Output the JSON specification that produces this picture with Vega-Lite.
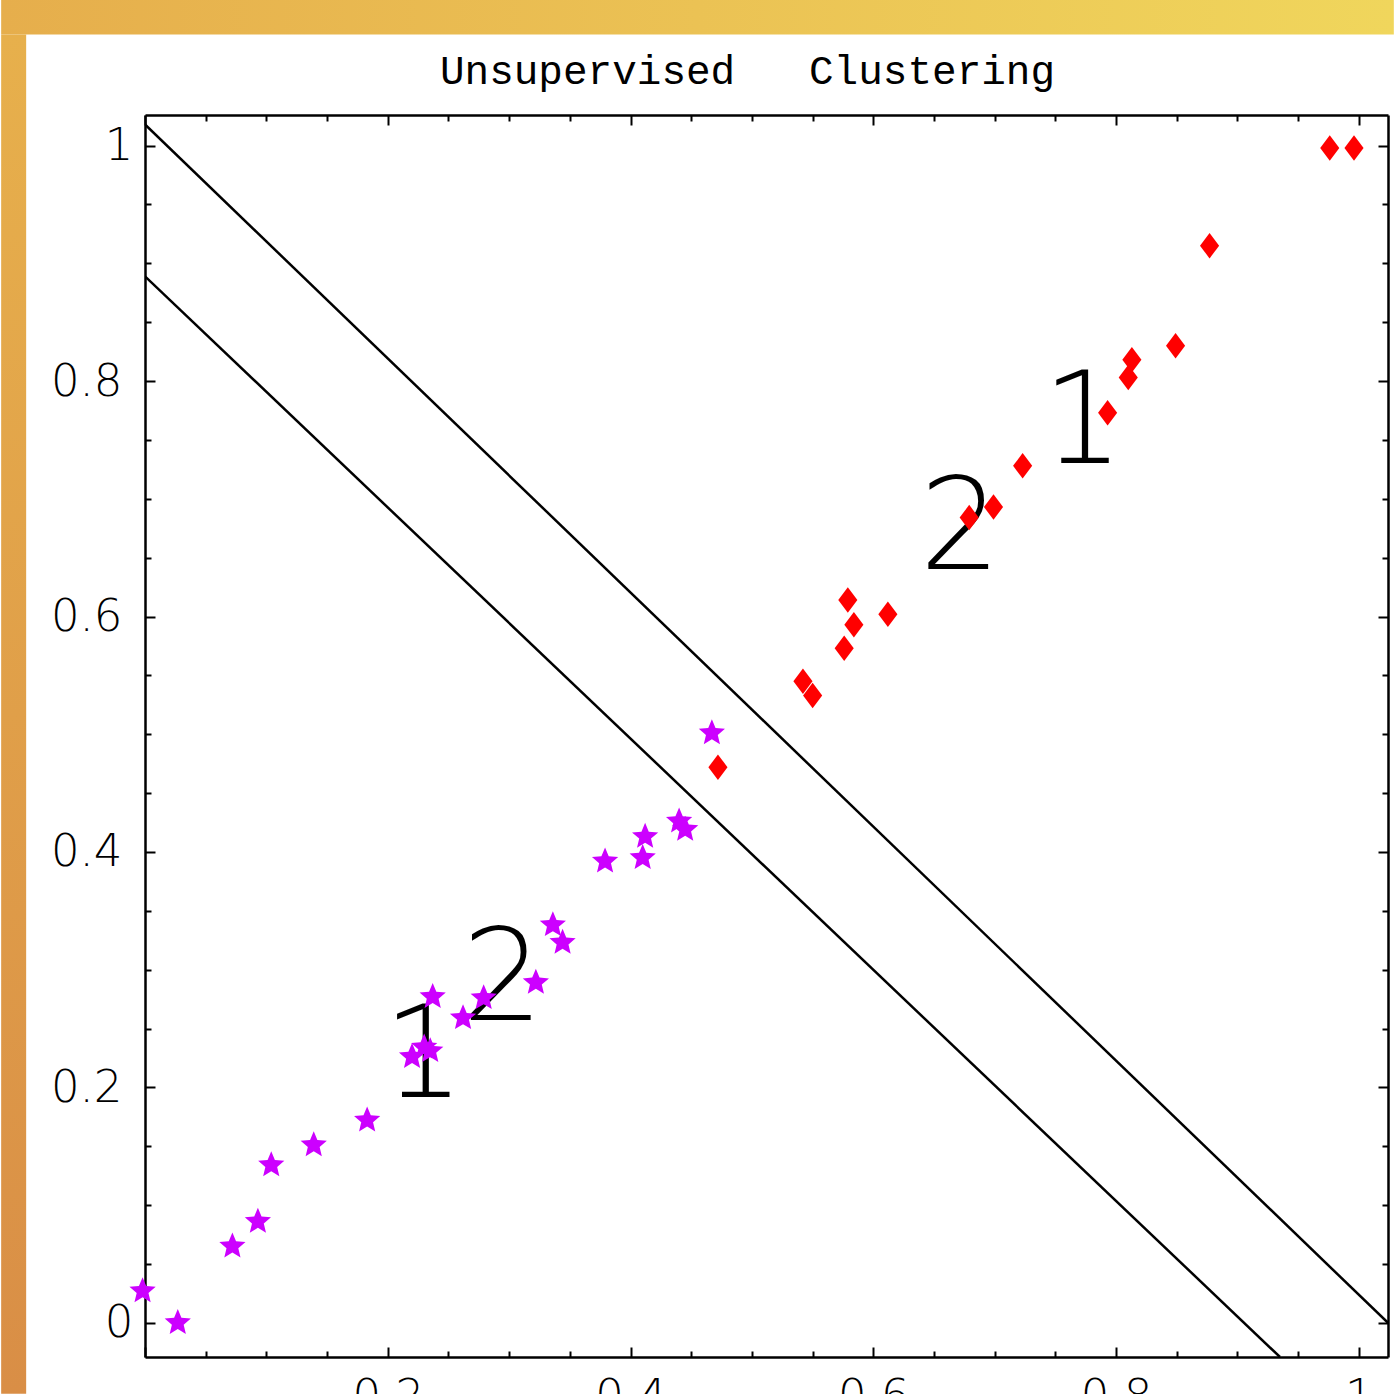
{
  "$schema": "https://vega.github.io/schema/vega-lite/v6.json",
  "width": 1243,
  "height": 1242,
  "autosize": {"type": "none"},
  "padding": {"left": 145, "top": 115, "right": 6, "bottom": 37},
  "background": "white",
  "config": {"view": {"stroke": null}, "axis": {"grid": false, "title": null, "domainColor": "black", "domainWidth": 2.5, "tickColor": "black", "tickWidth": 2, "labelColor": "black", "labelFlush": false, "labelOverlap": false}},
  "title": {"text": "Unsupervised\u00a0\u00a0\u00a0Clustering", "font": "Liberation Mono", "fontSize": 41, "fontWeight": "normal", "color": "black", "anchor": "middle", "frame": "group", "offset": -93, "dx": -19},
  "datasets": {
    "stars": [
      {"x": -0.002, "y": 0.027}, {"x": 0.027, "y": 0.0}, {"x": 0.072, "y": 0.065}, {"x": 0.093, "y": 0.086},
      {"x": 0.104, "y": 0.134}, {"x": 0.139, "y": 0.151}, {"x": 0.183, "y": 0.172}, {"x": 0.220, "y": 0.226},
      {"x": 0.230, "y": 0.234}, {"x": 0.235, "y": 0.231}, {"x": 0.237, "y": 0.277}, {"x": 0.262, "y": 0.259},
      {"x": 0.279, "y": 0.276}, {"x": 0.322, "y": 0.289}, {"x": 0.336, "y": 0.338}, {"x": 0.344, "y": 0.323},
      {"x": 0.379, "y": 0.392}, {"x": 0.410, "y": 0.395}, {"x": 0.412, "y": 0.413}, {"x": 0.440, "y": 0.426},
      {"x": 0.445, "y": 0.419}, {"x": 0.467, "y": 0.501}
    ],
    "diamonds": [
      {"x": 0.472, "y": 0.472}, {"x": 0.542, "y": 0.545}, {"x": 0.550, "y": 0.533}, {"x": 0.576, "y": 0.573},
      {"x": 0.579, "y": 0.614}, {"x": 0.584, "y": 0.593}, {"x": 0.612, "y": 0.602}, {"x": 0.679, "y": 0.684},
      {"x": 0.699, "y": 0.693}, {"x": 0.723, "y": 0.728}, {"x": 0.793, "y": 0.773}, {"x": 0.810, "y": 0.803},
      {"x": 0.813, "y": 0.818}, {"x": 0.849, "y": 0.830}, {"x": 0.877, "y": 0.915}, {"x": 0.976, "y": 0.998},
      {"x": 0.996, "y": 0.998}
    ],
    "lines": [
      {"line": "upper", "x": 0.0, "y": 1.018}, {"line": "upper", "x": 1.024, "y": 0.0},
      {"line": "lower", "x": 0.0, "y": 0.889}, {"line": "lower", "x": 0.935, "y": -0.029}
    ],
    "labels": [
      {"x": 0.2296, "y": 0.192, "label": "1"}, {"x": 0.2947, "y": 0.2574, "label": "2"},
      {"x": 0.6716, "y": 0.6406, "label": "2"}, {"x": 0.7728, "y": 0.7307, "label": "1"}
    ]
  },
  "layer": [
    {
      "data": {"values": [{}]},
      "mark": {"type": "rect", "fill": {"gradient": "linear", "x1": 0, "y1": 0, "x2": 1, "y2": 0, "stops": [{"offset": 0, "color": "#e6ae4c"}, {"offset": 1, "color": "#f0d65c"}]}},
      "encoding": {
        "x": {"datum": -0.1185, "type": "quantitative", "scale": {"domain": [0, 1.024], "nice": false, "zero": false}, "axis": null},
        "x2": {"datum": 1.0288},
        "y": {"datum": 1.124, "type": "quantitative", "scale": {"domain": [-0.029, 1.026], "nice": false, "zero": false}, "axis": null},
        "y2": {"datum": 1.0943}
      }
    },
    {
      "data": {"values": [{}]},
      "mark": {"type": "rect", "fill": {"gradient": "linear", "x1": 0, "y1": 0, "x2": 0, "y2": 1, "stops": [{"offset": 0, "color": "#e7b04c"}, {"offset": 1, "color": "#d98e46"}]}},
      "encoding": {
        "x": {"datum": -0.1185, "type": "quantitative", "scale": {"domain": [0, 1.024], "nice": false, "zero": false}, "axis": null},
        "x2": {"datum": -0.0979},
        "y": {"datum": 1.0943, "type": "quantitative", "scale": {"domain": [-0.029, 1.026], "nice": false, "zero": false}, "axis": null},
        "y2": {"datum": -0.0603}
      }
    },
    {
      "data": {"name": "lines"},
      "mark": {"type": "line", "color": "black", "strokeWidth": 2.5, "clip": true},
      "encoding": {
        "detail": {"field": "line", "type": "nominal"},
        "x": {"field": "x", "type": "quantitative", "scale": {"domain": [0, 1.024], "nice": false, "zero": false},
          "axis": {"orient": "bottom", "values": [0, 0.2, 0.4, 0.6, 0.8, 1], "tickSize": -10, "labelPadding": 27, "labelFont": "DejaVu Sans", "labelFontSize": 45, "labelFontWeight": 200, "labelBaseline": "top", "labelAlign": "center", "labelExpr": "datum.value == 0 ? '' : (datum.value == 1 ? '1' : format(datum.value, '.1f'))"}},
        "y": {"field": "y", "type": "quantitative", "scale": {"domain": [-0.029, 1.026], "nice": false, "zero": false},
          "axis": {"orient": "left", "values": [0, 0.2, 0.4, 0.6, 0.8, 1], "tickSize": -10, "labelPadding": {"condition": {"test": "datum.value == 0 || datum.value == 1", "value": 22}, "value": 33}, "labelFont": "DejaVu Sans", "labelFontSize": 45, "labelFontWeight": 200, "labelAlign": "right", "labelBaseline": "middle", "labelExpr": "datum.value == 0 ? '0' : (datum.value == 1 ? '1' : format(datum.value, '.1f'))"}}
      }
    },
    {
      "data": {"name": "labels"},
      "mark": {"type": "text", "font": "DejaVu Sans", "fontSize": 128, "fontWeight": 200, "align": "center", "baseline": "alphabetic", "color": "black"},
      "encoding": {
        "text": {"field": "label", "type": "nominal"},
        "x": {"field": "x", "type": "quantitative", "scale": {"domain": [0, 1.024], "nice": false, "zero": false},
          "axis": {"orient": "bottom", "values": [0.05, 0.1, 0.15, 0.25, 0.3, 0.35, 0.45, 0.5, 0.55, 0.65, 0.7, 0.75, 0.85, 0.9, 0.95], "tickSize": -6, "labels": false, "domain": false}},
        "y": {"field": "y", "type": "quantitative", "scale": {"domain": [-0.029, 1.026], "nice": false, "zero": false},
          "axis": {"orient": "left", "values": [0.05, 0.1, 0.15, 0.25, 0.3, 0.35, 0.45, 0.5, 0.55, 0.65, 0.7, 0.75, 0.85, 0.9, 0.95], "tickSize": -6, "labels": false, "domain": false}}
      }
    },
    {
      "data": {"name": "stars"},
      "mark": {"type": "point", "shape": "M0,-1L0.265,-0.364L0.951,-0.309L0.428,0.139L0.588,0.809L0,0.45L-0.588,0.809L-0.428,0.139L-0.951,-0.309L-0.265,-0.364Z", "filled": true, "color": "#cc00ff", "opacity": 1, "size": 760, "strokeWidth": 0},
      "encoding": {
        "x": {"field": "x", "type": "quantitative", "scale": {"domain": [0, 1.024], "nice": false, "zero": false},
          "axis": {"orient": "top", "values": [0, 0.2, 0.4, 0.6, 0.8, 1], "tickSize": -10, "labels": false}},
        "y": {"field": "y", "type": "quantitative", "scale": {"domain": [-0.029, 1.026], "nice": false, "zero": false},
          "axis": {"orient": "right", "values": [0, 0.2, 0.4, 0.6, 0.8, 1], "tickSize": -10, "labels": false}}
      }
    },
    {
      "data": {"name": "diamonds"},
      "mark": {"type": "point", "shape": "M0,-1L0.75,0L0,1L-0.75,0Z", "filled": true, "color": "#ff0000", "opacity": 1, "size": 650, "strokeWidth": 0},
      "encoding": {
        "x": {"field": "x", "type": "quantitative", "scale": {"domain": [0, 1.024], "nice": false, "zero": false},
          "axis": {"orient": "top", "values": [0.05, 0.1, 0.15, 0.25, 0.3, 0.35, 0.45, 0.5, 0.55, 0.65, 0.7, 0.75, 0.85, 0.9, 0.95], "tickSize": -6, "labels": false, "domain": false}},
        "y": {"field": "y", "type": "quantitative", "scale": {"domain": [-0.029, 1.026], "nice": false, "zero": false},
          "axis": {"orient": "right", "values": [0.05, 0.1, 0.15, 0.25, 0.3, 0.35, 0.45, 0.5, 0.55, 0.65, 0.7, 0.75, 0.85, 0.9, 0.95], "tickSize": -6, "labels": false, "domain": false}}
      }
    }
  ],
  "resolve": {"axis": {"x": "independent", "y": "independent"}}
}
